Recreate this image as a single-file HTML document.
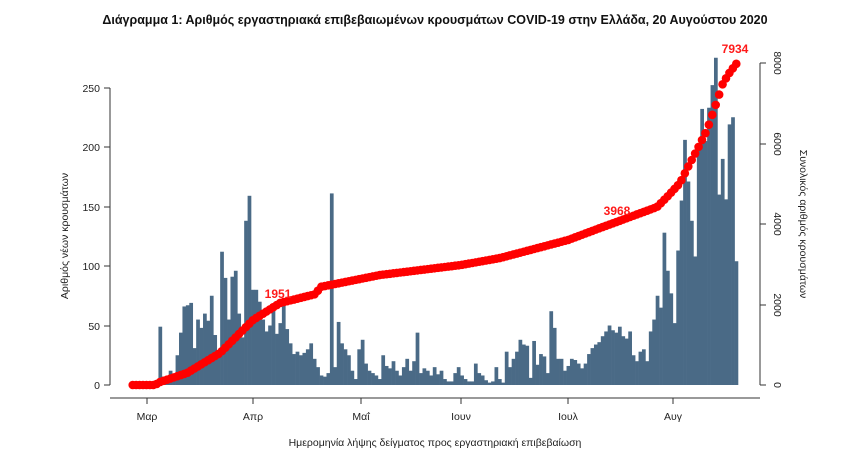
<!DOCTYPE html>
<html><head><meta charset="utf-8"><style>
html,body{margin:0;padding:0;background:#fff;width:850px;height:458px;overflow:hidden}
svg{display:block;font-family:"Liberation Sans",sans-serif}
</style></head><body>
<svg id="s" width="850" height="458" xmlns="http://www.w3.org/2000/svg">
<text x="435" y="24" text-anchor="middle" font-size="12.5" font-weight="bold" fill="#111">Διάγραμμα 1: Αριθμός εργαστηριακά επιβεβαιωμένων κρουσμάτων COVID-19 στην Ελλάδα, 20 Αυγούστου 2020</text>
<g stroke="#333" stroke-width="1" fill="none">
<path d="M110,88V385"/>
<path d="M104,385H110M104,326H110M104,266H110M104,207H110M104,147H110M104,88H110"/>
<path d="M110,398H760"/>
<path d="M147,398V404M253,398V404M361,398V404M461,398V404M568,398V404M673,398V404"/>
<path d="M760,63V385"/>
<path d="M760,385H766M760,305H766M760,224H766M760,144H766M760,63H766"/>
</g>
<g font-size="10.5" fill="#222" text-anchor="end">
<text x="100" y="389">0</text><text x="100" y="330">50</text><text x="100" y="270">100</text><text x="100" y="211">150</text><text x="100" y="151">200</text><text x="100" y="92">250</text>
</g>
<g font-size="10.5" fill="#222" text-anchor="middle">
<text transform="translate(774,385) rotate(90)">0</text>
<text transform="translate(774,305) rotate(90)">2000</text>
<text transform="translate(774,224) rotate(90)">4000</text>
<text transform="translate(774,144) rotate(90)">6000</text>
<text transform="translate(774,63) rotate(90)">8000</text>
<text x="147" y="420">Μαρ</text><text x="253" y="420">Απρ</text><text x="361" y="420">Μαΐ</text><text x="461" y="420">Ιουν</text><text x="568" y="420">Ιουλ</text><text x="673" y="420">Αυγ</text>
<text x="435" y="446">Ημερομηνία λήψης δείγματος προς εργαστηριακή επιβεβαίωση</text>
<text transform="translate(68,236) rotate(-90)">Αριθμός νέων κρουσμάτων</text>
<text transform="translate(800,224) rotate(90)">Συνολικός αριθμός κρουσμάτων</text>
</g>
<g id="bars" fill="#4a6a86"></g>
<g id="line" fill="#ff0000"></g>
<g font-size="12" font-weight="bold" fill="#ff1a1a" text-anchor="middle">
<text x="278" y="298">1951</text><text x="617" y="215">3968</text><text x="735" y="53">7934</text>
</g>
</svg>
<script>
var d=[2,2,0,2,
0,0,2,2,49,7,7,12,9,25,44,66,67,69,31,55,48,60,54,75,42,25,112,90,55,91,96,60,40,138,159,
80,80,70,55,45,50,67,43,52,67,47,35,26,28,25,27,30,35,22,15,8,7,10,161,15,53,35,30,25,12,
5,30,38,18,12,10,8,5,25,16,14,20,12,8,15,22,12,20,44,10,14,12,8,15,9,12,5,3,3,10,15,
8,5,3,3,18,10,8,4,2,3,15,5,2,28,15,22,28,38,34,33,6,37,17,26,24,10,62,48,22,22,
12,16,22,21,18,14,18,26,31,34,36,41,45,50,46,44,49,41,39,45,25,20,28,30,20,45,55,75,65,128,96,
77,52,113,155,206,171,138,108,202,232,205,233,252,275,160,190,156,219,225,104];
var A=[[125,385],[155,385],[160,382],[187,373],[220,353],[253,320],[280,303],[316,294],[320,287],[380,275],[461,265],[500,258],[568,240],[600,228],[630,217],[657,207],[667,197],[680,183],[688,167],[697,150],[707,130],[715,107],[723,83],[730,72],[740,59]];
function Y(x){for(var k=1;k<A.length;k++){if(x<=A[k][0]){var a=A[k-1],b=A[k];return a[1]+(b[1]-a[1])*(x-a[0])/(b[0]-a[0]);}}return 59;}
var n=d.length,x0=131,w=(738-x0)/n;
var b='',l='';
for(var i=0;i<n;i++){var h=d[i]*59.5/50,x=x0+i*w;
b+='<rect x="'+x.toFixed(2)+'" y="'+(385-h).toFixed(2)+'" width="'+(w+0.3).toFixed(2)+'" height="'+h.toFixed(2)+'"/>';
var cx=x+w/2;
l+='<circle cx="'+cx.toFixed(2)+'" cy="'+Y(cx).toFixed(2)+'" r="4.3"/>';}
document.getElementById('bars').innerHTML=b;
document.getElementById('line').innerHTML=l;
</script>
</body></html>
